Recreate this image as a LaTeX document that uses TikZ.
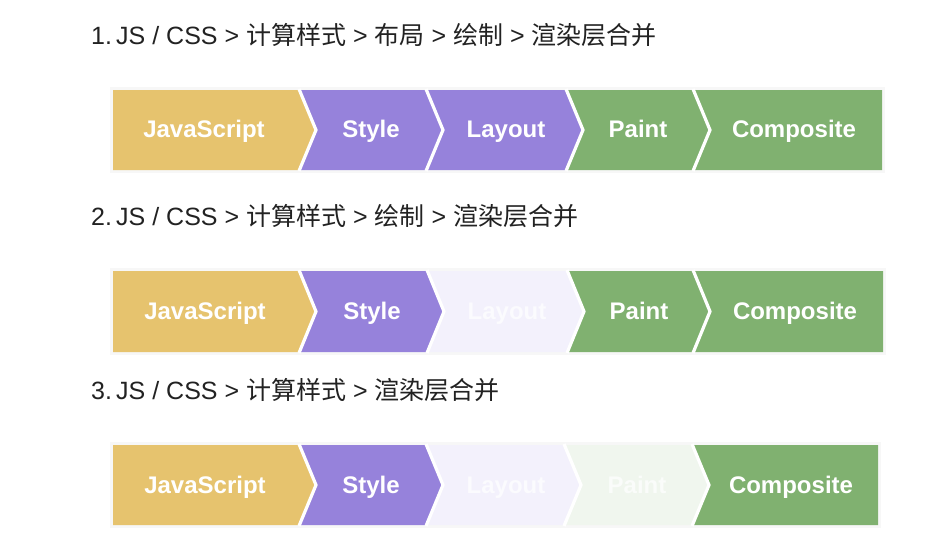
\documentclass[tikz,border=0pt]{standalone}
\usepackage{fontspec}
\setmainfont{Liberation Sans}
\newfontfamily\cjk{Noto Sans CJK SC}
\definecolor{cjs}{HTML}{E6C36E}
\definecolor{cst}{HTML}{9682DB}
\definecolor{cgr}{HTML}{80B170}
\definecolor{cfl}{HTML}{F3F1FC}
\definecolor{cfp}{HTML}{F0F6EE}
\definecolor{ctext}{HTML}{222222}
\definecolor{cshadow}{HTML}{F7F7F7}
\newcommand\firstseg[5]{\fill[#5] (#1,#3) -- (#2,#3) -- ({#2+17},{(#3+#4)/2}) -- (#2,#4) -- (#1,#4) -- cycle;}
\newcommand\midseg[5]{\fill[#5] (#1,#3) -- (#2,#3) -- ({#2+17},{(#3+#4)/2}) -- (#2,#4) -- (#1,#4) -- ({#1+17},{(#3+#4)/2}) -- cycle;}
\newcommand\lastseg[5]{\fill[#5] (#1,#3) -- (#2,#3) -- (#2,#4) -- (#1,#4) -- ({#1+17},{(#3+#4)/2}) -- cycle;}
\newcommand\sepline[3]{\draw[sepst] (#1,{#2-1}) -- ({#1+17},{(#2+#3)/2}) -- (#1,{#3+1});}
\tikzset{
  sepst/.style={white,line width=3.2pt,line join=miter},
  lbl/.style={font=\fontsize{24}{28}\selectfont\bfseries,text=white,inner sep=0pt,anchor=base},
  flbl/.style={lbl,text=white!70!#1},
  head/.style={font=\fontsize{25}{29}\selectfont,text=ctext,anchor=base west,inner sep=0pt},
}
\begin{document}
\begin{tikzpicture}[x=1pt,y=-1pt]
\useasboundingbox (0,0) rectangle (940,546);
\fill[white] (0,0) rectangle (940,546);
% headings
\node[head] (h1) at (91,44) {1.\,JS / CSS > {\cjk 计算样式} > {\cjk 布局} > {\cjk 绘制} > {\cjk 渲染层合并}};
\node[head] (h2) at (91,225) {2.\,JS / CSS > {\cjk 计算样式} > {\cjk 绘制} > {\cjk 渲染层合并}};
\node[head] (h3) at (91,399) {3.\,JS / CSS > {\cjk 计算样式} > {\cjk 渲染层合并}};
% row 1
\fill[cshadow] (110,87) rectangle (885,173);
\firstseg{113}{299}{90}{170}{cjs}
\midseg{299}{426}{90}{170}{cst}
\midseg{426}{566}{90}{170}{cst}
\midseg{566}{693}{90}{170}{cgr}
\lastseg{693}{882}{90}{170}{cgr}
\sepline{299}{90}{170}\sepline{426}{90}{170}\sepline{566}{90}{170}\sepline{693}{90}{170}
\node[lbl] (r1js) at (204,137) {JavaScript};
\node[lbl] (r1st) at (371,137) {Style};
\node[lbl] (r1la) at (506,137) {Layout};
\node[lbl] (r1pa) at (638,137) {Paint};
\node[lbl] (r1co) at (794,137) {Composite};
% row 2
\fill[cshadow] (110,268) rectangle (886,355);
\firstseg{113}{299}{271}{352}{cjs}
\midseg{299}{427}{271}{352}{cst}
\midseg{427}{567}{271}{352}{cfl}
\midseg{567}{693}{271}{352}{cgr}
\lastseg{693}{883}{271}{352}{cgr}
\sepline{299}{271}{352}\sepline{427}{271}{352}\sepline{567}{271}{352}\sepline{693}{271}{352}
\node[lbl] (r2js) at (205,319) {JavaScript};
\node[lbl] (r2st) at (372,319) {Style};
\node[flbl=cfl] (r2la) at (507,319) {Layout};
\node[lbl] (r2pa) at (639,319) {Paint};
\node[lbl] (r2co) at (795,319) {Composite};
% row 3
\fill[cshadow] (110,442) rectangle (881,528);
\firstseg{113}{299}{445}{525}{cjs}
\midseg{299}{426}{445}{525}{cst}
\midseg{426}{564}{445}{525}{cfl}
\midseg{564}{692}{445}{525}{cfp}
\lastseg{692}{878}{445}{525}{cgr}
\sepline{299}{445}{525}\sepline{426}{445}{525}\sepline{564}{445}{525}\sepline{692}{445}{525}
\node[lbl] (r3js) at (205,493) {JavaScript};
\node[lbl] (r3st) at (371,493) {Style};
\node[flbl=cfl] (r3la) at (506,493) {Layout};
\node[flbl=cfp] (r3pa) at (637,493) {Paint};
\node[lbl] (r3co) at (791,493) {Composite};
\end{tikzpicture}
\end{document}
